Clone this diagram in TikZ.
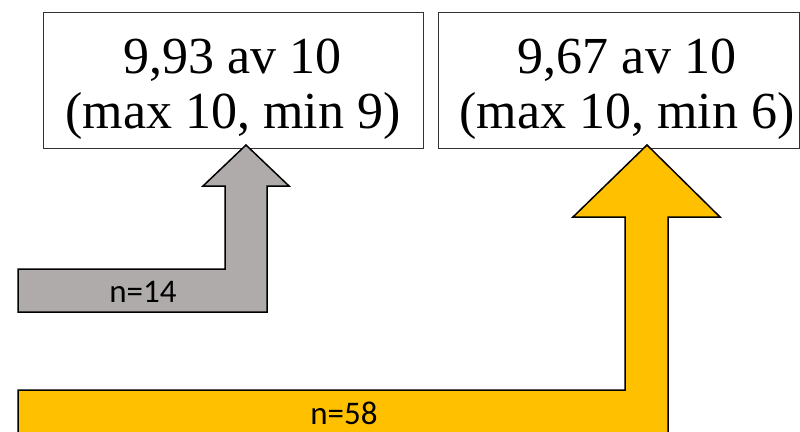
\documentclass[tikz,border=0pt]{standalone}
\usepackage{fontspec}
\setmainfont{Liberation Serif}
\newfontfamily\labelfont{Carlito}
\definecolor{arrowgray}{RGB}{175,171,171}
\definecolor{arrowyellow}{RGB}{255,192,0}
\definecolor{boxline}{RGB}{50,50,50}
\begin{document}
\begin{tikzpicture}[x=1pt,y=-1pt,
  resultbox/.style={draw=boxline,line width=1pt,fill=white,inner sep=0pt,anchor=north west},
  resulttext/.style={align=center,font=\fontsize{52}{55}\selectfont,inner sep=0pt,anchor=base},
  blockarrow/.style={draw=black,line width=1.5pt,line join=miter},
  countlabel/.style={font=\labelfont\fontsize{33}{36}\selectfont,inner sep=0pt,anchor=base}]
\useasboundingbox (0,0) rectangle (800,431);
% boxes
\node[resultbox,minimum width=380pt,minimum height=136pt] (b1) at (43,12) {};
\node[resultbox,minimum width=361pt,minimum height=136pt] (b2) at (438,12) {};
\node[resulttext] (t1) at (233,128) {9,93 av 10\\(max 10, min 9)};
\node[resulttext] (t2) at (627,128) {9,67 av 10\\(max 10, min 6)};
% gray block arrow
\coordinate (g1) at (b1.south -| 246,0);
\draw[blockarrow,fill=arrowgray] (18,269) -- (225,269) -- (225,186) -- (203,186)
  -- ([yshift=4pt]g1) -- (289,186) -- (267,186) -- (267,312) -- (18,312) -- cycle;
% yellow block arrow
\coordinate (y1) at (b2.south -| 647,0);
\draw[blockarrow,fill=arrowyellow] (18,390) -- (625,390) -- (625,217) -- (573,217)
  -- ([yshift=4pt]y1) -- (720,217) -- (668,217) -- (668,470) -- (18,470) -- cycle;
% labels
\node[countlabel] (n1) at (143,302) {n=14};
\node[countlabel] (n2) at (344,424) {n=58};
\end{tikzpicture}
\end{document}
